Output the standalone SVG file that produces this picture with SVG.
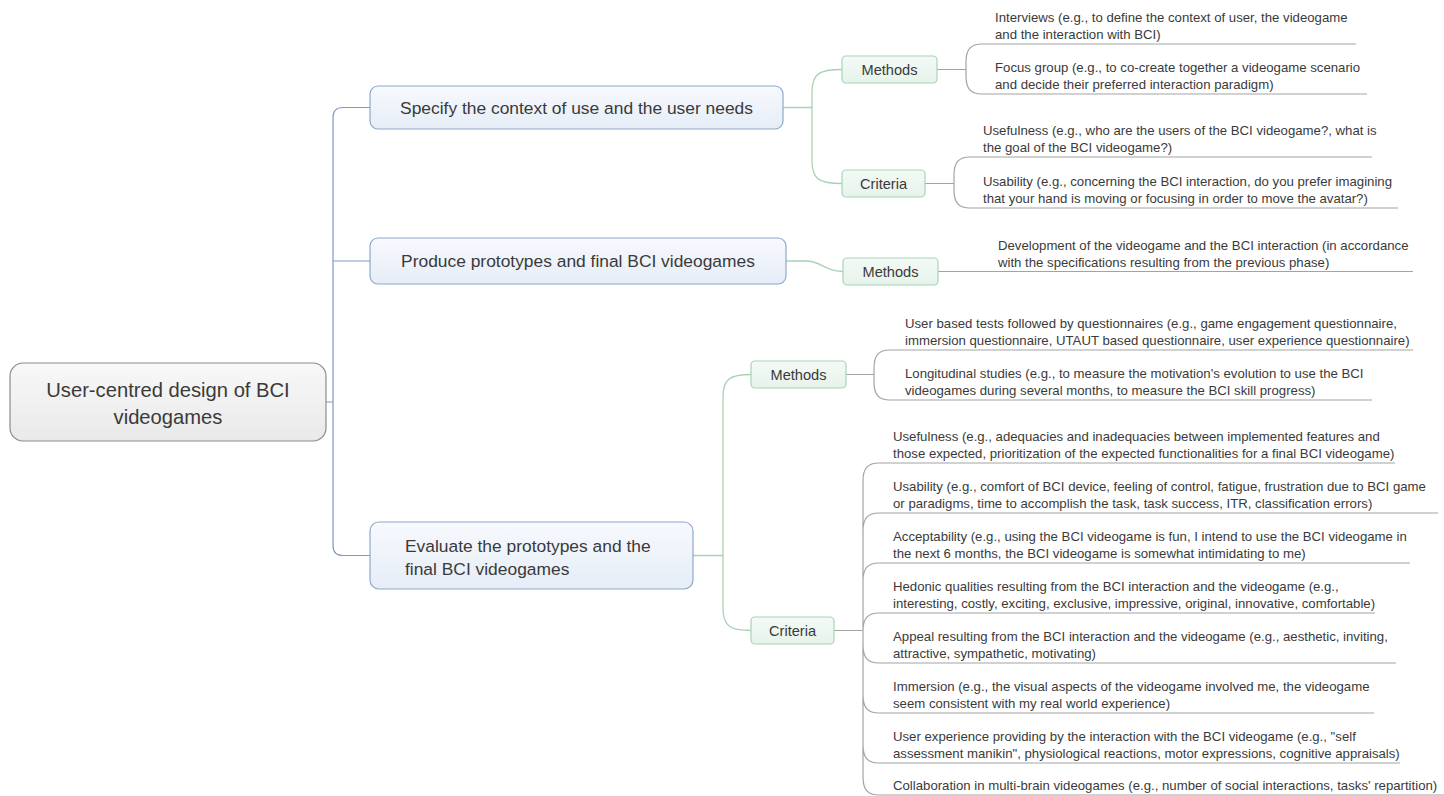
<svg xmlns="http://www.w3.org/2000/svg" width="1444" height="796" viewBox="0 0 1444 796">
<defs>
<linearGradient id="gRoot" x1="0" y1="0" x2="0" y2="1"><stop offset="0" stop-color="#f8f8f8"/><stop offset="1" stop-color="#e9e9e9"/></linearGradient>
<linearGradient id="gL1" x1="0" y1="0" x2="0" y2="1"><stop offset="0" stop-color="#f7f9fd"/><stop offset="1" stop-color="#e6edf7"/></linearGradient>
<linearGradient id="gL2" x1="0" y1="0" x2="0" y2="1"><stop offset="0" stop-color="#f4faf6"/><stop offset="1" stop-color="#e5f3ea"/></linearGradient>
</defs>
<style>
text{font-family:"Liberation Sans",Arial,sans-serif;fill:#3a3a3a}
.root{fill:url(#gRoot);stroke:#8c8c8c;stroke-width:1.2}
.rt{font-size:20.2px;text-anchor:middle}
.l1{fill:url(#gL1);stroke:#8ea8cc;stroke-width:1.2}
.t1{font-size:17.4px}
.c{text-anchor:middle}
.l2{fill:url(#gL2);stroke:#a8d4b6;stroke-width:1.2}
.t2{font-size:14.6px;text-anchor:middle}
.lf{font-size:13.2px}
.cb{fill:none;stroke:#7c99c1;stroke-width:1.2}
.cg{fill:none;stroke:#a9d2b5;stroke-width:1.3}
.cl{fill:none;stroke:#a3a3a3;stroke-width:1.2}
</style>

<g id="connectors">
<path class="cb" d="M326,402 H333 M370,107.5 H343 Q333,107.5 333,117.5 V545.5 Q333,555.5 343,555.5 H370 M333,261 H370"/>
<path class="cg" d="M783,107.5 H812 M842,69.5 C820,69.5 812,73 812,92 V161 C812,180 820,183.5 842,183.5"/>
<path class="cg" d="M786,261 H806 C822,261 824,271.5 843,271.5"/>
<path class="cg" d="M693,555.5 H723 M751,374.5 C730,374.5 723,379 723,397 V608 C723,626 730,630.5 751,630.5"/>
<path class="cl" d="M937,69.5 H966 M1356,44 H982 C971,44 966,49 966,62 V76 C966,89 971,94 982,94 H1367"/>
<path class="cl" d="M925,183.5 H954 M1372,157 H970 C959,157 954,162 954,175 V190 C954,203 959,208 970,208 H1398"/>
<path class="cl" d="M938,271.5 H1413"/>
<path class="cl" d="M846,374.5 H874 M1413,350 H890 C879,350 874,355 874,368 V382 C874,395 879,400 890,400 H1372"/>
<path class="cl" d="M834,630.5 H863 M863,481 V777
M863,481 C863,468 868,463 879,463 H1395
M863,531 C863,518 868,513 879,513 H1438
M863,581 C863,568 868,563 879,563 H1410
M863,631 C863,618 868,613 879,613 H1375
M863,645 C863,658 868,663 879,663 H1396
M863,695 C863,708 868,713 879,713 H1374
M863,745 C863,758 868,763 879,763 H1400
M863,777 C863,790 868,795 879,795 H1444"/>
</g>

<g id="root">
<rect class="root" x="10" y="363" width="316" height="78" rx="13"/>
<text class="rt" x="168" y="397">User-centred design of BCI</text>
<text class="rt" x="168" y="424">videogames</text>
</g>

<g id="n1">
<rect class="l1" x="370" y="86" width="413" height="43" rx="8"/>
<text class="t1 c" x="576.5" y="113.5">Specify the context of use and the user needs</text>
</g>
<g id="n2">
<rect class="l1" x="370" y="238" width="416" height="46" rx="8"/>
<text class="t1 c" x="578" y="267">Produce prototypes and final BCI videogames</text>
</g>
<g id="n3">
<rect class="l1" x="370" y="522" width="323" height="67" rx="9"/>
<text class="t1" x="405" y="552">Evaluate the prototypes and the</text>
<text class="t1" x="405" y="575">final BCI videogames</text>
</g>

<g id="n1-methods">
<rect class="l2" x="842" y="56" width="95" height="27" rx="4"/>
<text class="t2" x="889.5" y="74.5">Methods</text>
</g>
<g id="n1-criteria">
<rect class="l2" x="842" y="170" width="83" height="27" rx="4"/>
<text class="t2" x="883.5" y="188.5">Criteria</text>
</g>
<g id="n2-methods">
<rect class="l2" x="843" y="258" width="95" height="27" rx="4"/>
<text class="t2" x="890.5" y="276.5">Methods</text>
</g>
<g id="n3-methods">
<rect class="l2" x="751" y="361" width="95" height="27" rx="4"/>
<text class="t2" x="798.5" y="379.5">Methods</text>
</g>
<g id="n3-criteria">
<rect class="l2" x="751" y="617" width="83" height="27" rx="4"/>
<text class="t2" x="792.5" y="635.5">Criteria</text>
</g>

<g id="leaf-interviews">
<text class="lf" x="995" y="22">Interviews (e.g., to define the context of user, the videogame</text>
<text class="lf" x="995" y="39">and the interaction with BCI)</text>
</g>
<g id="leaf-focus">
<text class="lf" x="995" y="72">Focus group (e.g., to co-create together a videogame scenario</text>
<text class="lf" x="995" y="89">and decide their preferred interaction paradigm)</text>
</g>
<g id="leaf-usefulness1">
<text class="lf" x="983" y="135">Usefulness (e.g., who are the users of the BCI videogame?, what is</text>
<text class="lf" x="983" y="152">the goal of the BCI videogame?)</text>
</g>
<g id="leaf-usability1">
<text class="lf" x="983" y="186">Usability (e.g., concerning the BCI interaction, do you prefer imagining</text>
<text class="lf" x="983" y="203">that your hand is moving or focusing in order to move the avatar?)</text>
</g>
<g id="leaf-development">
<text class="lf" x="998" y="250">Development of the videogame and the BCI interaction (in accordance</text>
<text class="lf" x="998" y="267">with the specifications resulting from the previous phase)</text>
</g>
<g id="leaf-usertests">
<text class="lf" x="905" y="328">User based tests followed by questionnaires (e.g., game engagement questionnaire,</text>
<text class="lf" x="905" y="345">immersion questionnaire, UTAUT based questionnaire, user experience questionnaire)</text>
</g>
<g id="leaf-longitudinal">
<text class="lf" x="905" y="378">Longitudinal studies (e.g., to measure the motivation's evolution to use the BCI</text>
<text class="lf" x="905" y="395">videogames during several months, to measure the BCI skill progress)</text>
</g>
<g id="leaf-usefulness3">
<text class="lf" x="893" y="441">Usefulness (e.g., adequacies and inadequacies between implemented features and</text>
<text class="lf" x="893" y="458">those expected, prioritization of the expected functionalities for a final BCI videogame)</text>
</g>
<g id="leaf-usability3">
<text class="lf" x="893" y="491">Usability (e.g., comfort of BCI device, feeling of control, fatigue, frustration due to BCI game</text>
<text class="lf" x="893" y="508">or paradigms, time to accomplish the task, task success, ITR, classification errors)</text>
</g>
<g id="leaf-acceptability">
<text class="lf" x="893" y="541">Acceptability (e.g., using the BCI videogame is fun, I intend to use the BCI videogame in</text>
<text class="lf" x="893" y="558">the next 6 months, the BCI videogame is somewhat intimidating to me)</text>
</g>
<g id="leaf-hedonic">
<text class="lf" x="893" y="591">Hedonic qualities resulting from the BCI interaction and the videogame (e.g.,</text>
<text class="lf" x="893" y="608">interesting, costly, exciting, exclusive, impressive, original, innovative, comfortable)</text>
</g>
<g id="leaf-appeal">
<text class="lf" x="893" y="641">Appeal resulting from the BCI interaction and the videogame (e.g., aesthetic, inviting,</text>
<text class="lf" x="893" y="658">attractive, sympathetic, motivating)</text>
</g>
<g id="leaf-immersion">
<text class="lf" x="893" y="691">Immersion (e.g., the visual aspects of the videogame involved me, the videogame</text>
<text class="lf" x="893" y="708">seem consistent with my real world experience)</text>
</g>
<g id="leaf-userexp">
<text class="lf" x="893" y="741">User experience providing by the interaction with the BCI videogame (e.g., "self</text>
<text class="lf" x="893" y="758">assessment manikin", physiological reactions, motor expressions, cognitive appraisals)</text>
</g>
<g id="leaf-collaboration">
<text class="lf" x="893" y="790">Collaboration in multi-brain videogames (e.g., number of social interactions, tasks' repartition)</text>
</g>
</svg>
